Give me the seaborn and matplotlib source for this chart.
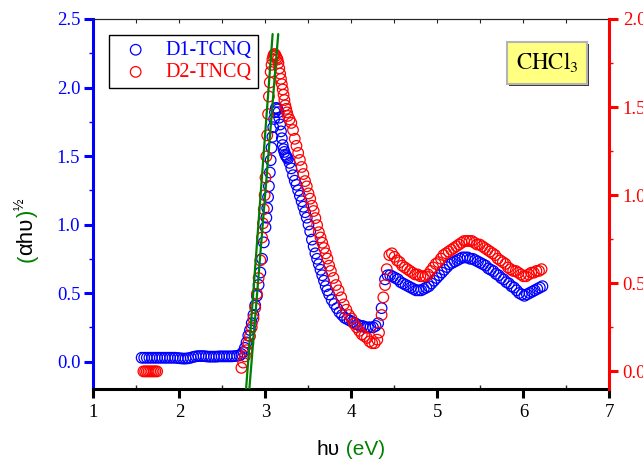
import numpy as np
import pandas as pd
import matplotlib
matplotlib.use("Agg")
import matplotlib.pyplot as plt
import matplotlib.patheffects as pe
from matplotlib.ticker import MultipleLocator
import seaborn as sns

# D1-TCNQ, left axis: energy (eV) and (alpha h nu)^1/2
d1_energy = [1.56, 1.59, 1.62, 1.65, 1.68, 1.71, 1.74, 1.77, 1.80, 1.83, 1.86, 1.89, 1.92, 1.95,
             1.98, 2.01, 2.04, 2.07, 2.10, 2.13, 2.16, 2.19, 2.22, 2.25, 2.28, 2.31, 2.34, 2.37,
             2.40, 2.43, 2.46, 2.49, 2.52, 2.55, 2.58, 2.61, 2.64, 2.67,
             2.70, 2.72, 2.74, 2.76, 2.78, 2.80, 2.82, 2.84, 2.86, 2.88, 2.90, 2.92, 2.94, 2.96,
             2.98, 3.00, 3.01, 3.02, 3.03, 3.04, 3.05, 3.06, 3.07, 3.08, 3.09, 3.10, 3.11, 3.12,
             3.13, 3.14,
             3.15, 3.16, 3.17, 3.18, 3.19, 3.20, 3.21, 3.22, 3.23, 3.24, 3.25, 3.26, 3.28, 3.30,
             3.32, 3.34, 3.36, 3.38, 3.40, 3.42, 3.44, 3.46, 3.48, 3.50, 3.52, 3.54, 3.56, 3.58,
             3.60, 3.62, 3.64, 3.66, 3.68, 3.70, 3.72, 3.74, 3.77, 3.80, 3.83, 3.86, 3.89, 3.92,
             3.95, 3.98, 4.01, 4.04, 4.07, 4.10, 4.13, 4.16, 4.19, 4.22, 4.25, 4.28,
             4.31, 4.35, 4.39,
             4.42, 4.45, 4.48, 4.51, 4.54, 4.57, 4.60, 4.63, 4.66, 4.69, 4.72, 4.75, 4.78, 4.81,
             4.84, 4.87, 4.90, 4.93, 4.96, 4.99, 5.02, 5.05, 5.08, 5.11, 5.14, 5.17, 5.20, 5.23,
             5.26, 5.29, 5.32, 5.35, 5.38, 5.41, 5.44, 5.47, 5.50, 5.53, 5.56, 5.59, 5.62, 5.65,
             5.68, 5.71, 5.74, 5.77, 5.80, 5.83, 5.86, 5.89, 5.92, 5.95, 5.98, 6.01, 6.04, 6.07,
             6.10, 6.13, 6.16, 6.19, 6.22]
d1_value = [0.028, 0.028, 0.028, 0.028, 0.028, 0.028, 0.028, 0.028, 0.028, 0.028, 0.028, 0.028, 0.028, 0.028,
            0.026, 0.024, 0.022, 0.022, 0.024, 0.028, 0.034, 0.038, 0.040, 0.040, 0.040, 0.038, 0.036, 0.036,
            0.036, 0.036, 0.038, 0.038, 0.038, 0.038, 0.038, 0.038, 0.040, 0.042,
            0.045, 0.055, 0.07, 0.10, 0.14, 0.19, 0.23, 0.28, 0.34, 0.41, 0.48, 0.56, 0.65, 0.75,
            0.87, 0.98, 1.05, 1.12, 1.20, 1.28, 1.38, 1.47, 1.56, 1.64, 1.71, 1.77, 1.82, 1.85,
            1.85, 1.84,
            1.82, 1.78, 1.73, 1.68, 1.63, 1.58, 1.55, 1.53, 1.51, 1.50, 1.49, 1.48, 1.45, 1.41,
            1.36, 1.32, 1.29, 1.25, 1.21, 1.17, 1.13, 1.09, 1.05, 1.00, 0.95, 0.89, 0.84, 0.79,
            0.75, 0.71, 0.67, 0.63, 0.59, 0.55, 0.52, 0.49, 0.45, 0.42, 0.39, 0.36, 0.34, 0.32,
            0.31, 0.30, 0.29, 0.28, 0.27, 0.26, 0.26, 0.25, 0.25, 0.25, 0.25, 0.26,
            0.28, 0.39, 0.60,
            0.63, 0.63, 0.62, 0.61, 0.60, 0.58, 0.57, 0.56, 0.55, 0.54, 0.53, 0.52, 0.52, 0.52,
            0.53, 0.54, 0.55, 0.57, 0.59, 0.61, 0.63, 0.65, 0.67, 0.69, 0.71, 0.72, 0.73, 0.74,
            0.75, 0.76, 0.76, 0.76, 0.75, 0.75, 0.74, 0.73, 0.72, 0.71, 0.70, 0.68, 0.67, 0.66,
            0.64, 0.63, 0.61, 0.60, 0.58, 0.57, 0.55, 0.54, 0.52, 0.50, 0.49, 0.48, 0.49, 0.50,
            0.51, 0.52, 0.53, 0.54, 0.55]

# D2-TNCQ, right axis
d2_energy = [1.58, 1.60, 1.62, 1.64, 1.66, 1.68, 1.70, 1.72, 1.74,
             2.72, 2.74, 2.76, 2.78, 2.80, 2.82, 2.84, 2.86, 2.88, 2.90, 2.92, 2.94, 2.96, 2.97,
             2.98, 2.99, 3.00, 3.01, 3.02, 3.03, 3.04, 3.05, 3.06, 3.07, 3.08, 3.09, 3.10, 3.11,
             3.12, 3.13,
             3.14, 3.15, 3.16, 3.17, 3.18, 3.19, 3.20, 3.21, 3.22, 3.23, 3.24, 3.25, 3.26, 3.28,
             3.30, 3.32, 3.34, 3.36, 3.38, 3.40, 3.42, 3.44, 3.46, 3.48, 3.50, 3.52, 3.54, 3.56,
             3.58, 3.60, 3.62, 3.64, 3.66, 3.68, 3.70, 3.72, 3.74, 3.76, 3.79, 3.82, 3.85, 3.88,
             3.91, 3.94, 3.97, 4.00, 4.03, 4.06, 4.09, 4.12, 4.15, 4.18, 4.21, 4.24, 4.27,
             4.30, 4.32, 4.35, 4.37, 4.39, 4.41, 4.44,
             4.47, 4.50, 4.53, 4.56, 4.59, 4.62, 4.65, 4.68, 4.71, 4.74, 4.77, 4.80, 4.83, 4.86,
             4.89, 4.92, 4.95, 4.98, 5.01, 5.04, 5.07, 5.10, 5.13, 5.16, 5.19, 5.22, 5.25, 5.28,
             5.31, 5.34, 5.37, 5.40, 5.43, 5.46, 5.49, 5.52, 5.55, 5.58, 5.61, 5.64, 5.67, 5.70,
             5.73, 5.76, 5.79, 5.82, 5.85, 5.88, 5.91, 5.94, 5.97, 6.00, 6.03, 6.06, 6.09, 6.12,
             6.15, 6.18, 6.21]
d2_value = [0.0, 0.0, 0.0, 0.0, 0.0, 0.0, 0.0, 0.0, 0.0,
            0.02, 0.05, 0.085, 0.12, 0.16, 0.20, 0.25, 0.30, 0.36, 0.44, 0.53, 0.63, 0.76, 0.84,
            0.92, 1.00, 1.10, 1.22, 1.34, 1.46, 1.56, 1.64, 1.70, 1.74, 1.77, 1.79, 1.80, 1.80,
            1.79, 1.78,
            1.77, 1.75, 1.72, 1.69, 1.66, 1.63, 1.60, 1.57, 1.54, 1.51, 1.49, 1.47, 1.45, 1.43,
            1.41, 1.37, 1.32, 1.28, 1.24, 1.20, 1.16, 1.12, 1.08, 1.05, 1.01, 0.98, 0.94, 0.91,
            0.87, 0.83, 0.79, 0.76, 0.73, 0.70, 0.67, 0.64, 0.60, 0.57, 0.53, 0.49, 0.46, 0.42,
            0.38, 0.35, 0.32, 0.30, 0.27, 0.25, 0.23, 0.21, 0.20, 0.19, 0.17, 0.16, 0.16,
            0.18, 0.22, 0.32, 0.42, 0.49, 0.58, 0.66,
            0.67, 0.65, 0.63, 0.62, 0.60, 0.59, 0.58, 0.57, 0.56, 0.55, 0.55, 0.54, 0.54, 0.54,
            0.55, 0.57, 0.59, 0.61, 0.62, 0.64, 0.66, 0.67, 0.68, 0.69, 0.70, 0.71, 0.72, 0.73,
            0.74, 0.74, 0.74, 0.74, 0.73, 0.72, 0.72, 0.71, 0.70, 0.69, 0.68, 0.67, 0.66, 0.64,
            0.63, 0.62, 0.61, 0.59, 0.58, 0.57, 0.57, 0.56, 0.55, 0.54, 0.54, 0.55, 0.56, 0.56,
            0.57, 0.57, 0.58]

# tangent lines (left-axis units)
fit1_energy = [2.773, 3.083]
fit1_value = [-0.21, 2.39]
fit2_energy = [2.811, 3.148]
fit2_value = [-0.21, 2.39]

series_names = ["D1-TCNQ", "D2-TNCQ"]
solvent = r"$\mathrm{CHCl_3}$"

BLUE = "#0000ff"
RED = "#ff0000"
GREEN = "#008000"

sns.set_style("ticks")
plt.rcParams["font.family"] = ["Liberation Serif", "DejaVu Serif"]
plt.rcParams["mathtext.fontset"] = "stix"
sans = ["Liberation Sans", "DejaVu Sans"]

fig = plt.figure(figsize=(6.43, 4.61), dpi=100)
ax = fig.add_axes([0.1454, 0.1562, 0.8025, 0.8026])
ax2 = ax.twinx()

sns.scatterplot(x=d1_energy, y=d1_value, ax=ax, marker="o", s=58,
                facecolor="none", edgecolor=BLUE, linewidth=0.9)
sns.scatterplot(x=d2_energy, y=d2_value, ax=ax2, marker="o", s=58,
                facecolor="none", edgecolor=RED, linewidth=0.9)

# green fits drawn on top of both series
ax2.plot(fit1_energy, fit1_value, transform=ax.transData, color=GREEN, lw=1.6)
ax2.plot(fit2_energy, fit2_value, transform=ax.transData, color=GREEN, lw=1.6)

ax.set_xlim(1, 7)
ax.set_ylim(-0.2, 2.5)
ax2.set_ylim(-0.1, 2.0)
ax.set_xlabel("")
ax.set_ylabel("")
ax2.set_ylabel("")

ax.set_xticks(range(1, 8))
ax.xaxis.set_minor_locator(MultipleLocator(0.5))
ax.set_yticks([0, 0.5, 1.0, 1.5, 2.0, 2.5])
ax.yaxis.set_minor_locator(MultipleLocator(0.25))
ax2.set_yticks([0, 0.5, 1.0, 1.5, 2.0])
ax2.yaxis.set_minor_locator(MultipleLocator(0.25))

ax.tick_params(axis="x", which="major", direction="out", length=6.5, width=2.2,
               colors="black", labelsize=13.5, pad=4, top=False)
ax.tick_params(axis="x", which="minor", direction="in", length=3, width=1, top=False)
ax.tick_params(axis="y", which="major", direction="out", length=6.5, width=2.2,
               colors=BLUE, labelsize=13.5, pad=3)
ax.tick_params(axis="y", which="minor", direction="out", length=3, width=1, colors=BLUE)
ax2.tick_params(axis="y", which="major", direction="out", length=6.5, width=2.2,
                colors=RED, labelsize=13.5, pad=3)
ax2.tick_params(axis="y", which="minor", direction="out", length=3, width=1, colors=RED)

top = ax.secondary_xaxis("top")
top.set_xticks(np.arange(1, 7.01, 0.5))
top.tick_params(axis="x", which="both", direction="in", length=3, width=0.8,
                labeltop=False, labelbottom=False)
top.spines["top"].set_linewidth(0.8)

ax.spines["left"].set_color(BLUE)
ax.spines["left"].set_linewidth(2.2)
ax.spines["bottom"].set_color("black")
ax.spines["bottom"].set_linewidth(2.2)
ax.spines["top"].set_linewidth(0.8)
ax.spines["right"].set_visible(False)
ax2.spines["right"].set_color(RED)
ax2.spines["right"].set_linewidth(2.2)
for s in ["left", "top", "bottom"]:
    ax2.spines[s].set_visible(False)

# legend
handles = [ax.collections[0], ax2.collections[0]]
leg = ax2.legend(handles, series_names, loc="upper left", bbox_to_anchor=(0.031, 0.957),
                 borderaxespad=0, fontsize=14.5, labelcolor=[BLUE, RED], fancybox=False,
                 framealpha=1, edgecolor="black", handletextpad=0.5, borderpad=0.3,
                 labelspacing=0.15, handlelength=2.0)
leg.get_frame().set_linewidth(1.0)

# solvent tag, yellow box with a dark drop shadow
tag = ax2.text(0.879, 0.881, solvent, transform=ax2.transAxes, ha="center", va="center",
               fontsize=16.5, color="black",
               bbox=dict(boxstyle="square,pad=0.38", fc="#ffff80", ec="#b4b4b4", lw=1.5))
tag.get_bbox_patch().set_path_effects([
    pe.SimplePatchShadow(offset=(1.5, -1.5), shadow_rgbFace="#3a3a3a", alpha=1.0),
    pe.Normal()])

# x label: "hυ (eV)" with green units
t = fig.text(316.7 / 643, (461 - 455) / 461, "hυ", ha="left", va="baseline",
             fontsize=15, family=sans, color="black")
ax.annotate(" (eV)", xy=(1, 0), xycoords=t, ha="left", va="bottom",
            fontsize=15, family=sans, color=GREEN)

# y label: (αhυ)^½ with green brackets
t = fig.text(27 / 643, (461 - 262) / 461, "(", rotation=90, ha="center", va="bottom",
             fontsize=16, family=sans, color=GREEN)
t = ax.annotate("αhυ", xy=(0, 1), xycoords=t, ha="left", va="bottom", rotation=90,
                fontsize=16, family=sans, color="black")
t = ax.annotate(")", xy=(0, 1), xycoords=t, ha="left", va="bottom", rotation=90,
                fontsize=16, family=sans, color=GREEN)
ax.annotate("½", xy=(0, 1), xycoords=t, ha="left", va="bottom", rotation=90,
            fontsize=10, family=sans, color="black", xytext=(-3, 0),
            textcoords="offset points")

fig.savefig("out.png", dpi=100)
